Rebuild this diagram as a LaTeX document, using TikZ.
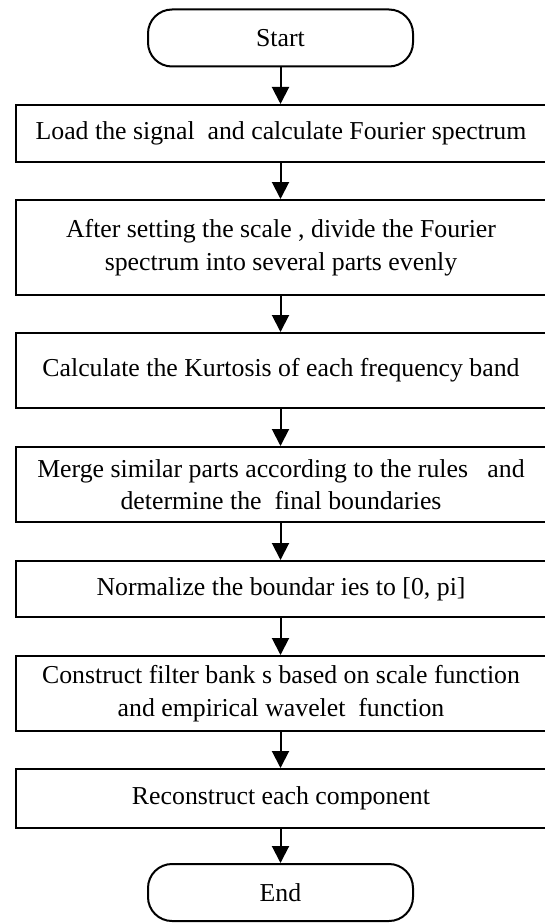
\documentclass[tikz,border=0pt]{standalone}
\usepackage{fontspec}
\setmainfont{Liberation Serif}
\usetikzlibrary{arrows.meta}
\tikzset{
  procbox/.style={draw=black, line width=2pt, minimum width=536pt, inner sep=0pt, align=center, fill=white},
  termbox/.style={draw=black, line width=2pt, minimum width=265pt, minimum height=57pt, rounded corners=24pt, inner sep=0pt, fill=white},
  flow/.style={line width=2pt, -{Triangle[length=17pt,width=17pt]}}
}
\begin{document}
\begin{tikzpicture}[x=1pt,y=-1pt,font=\fontsize{25.8}{32.5}\selectfont]
\useasboundingbox (0,0) rectangle (544,923);
\node[termbox] (start) at (280.5,38) {Start};
\node[procbox, minimum height=57pt] (b1) at (284,133.5) {\hspace{-6pt}Load the signal\ \ and calculate Fourier spectrum};
\node[procbox, minimum height=95pt] (b2) at (284,247.5) {\hspace{-6pt}After setting the scale , divide the Fourier\\\hspace{-6pt}spectrum into several parts evenly};
\node[procbox, minimum height=75pt] (b3) at (284,370.5) {\hspace{-6pt}Calculate the Kurtosis of each frequency band};
\node[procbox, minimum height=75pt] (b4) at (284,484.5) {\hspace{-6pt}Merge similar parts according to the rules\ \ \ and\\\hspace{-6pt}determine the\ \ final boundaries};
\node[procbox, minimum height=56pt] (b5) at (284,589) {\hspace{-6pt}Normalize the boundar ies to [0, pi]};
\node[procbox, minimum height=75pt] (b6) at (284,693.5) {\hspace{-6pt}Construct filter bank s based on scale function\\\hspace{-6pt}and empirical wavelet\ \ function};
\node[procbox, minimum height=59pt] (b7) at (284,798.5) {\hspace{-6pt}Reconstruct each component};
\node[termbox] (end) at (280.5,892.5) {End};
\draw[flow] (start.south) -- (start.south |- b1.north);
\draw[flow] (b1.south -| start) -- (b2.north -| start);
\draw[flow] (b2.south -| start) -- (b3.north -| start);
\draw[flow] (b3.south -| start) -- (b4.north -| start);
\draw[flow] (b4.south -| start) -- (b5.north -| start);
\draw[flow] (b5.south -| start) -- (b6.north -| start);
\draw[flow] (b6.south -| start) -- (b7.north -| start);
\draw[flow] (b7.south -| end) -- (end.north);
\end{tikzpicture}
\end{document}
